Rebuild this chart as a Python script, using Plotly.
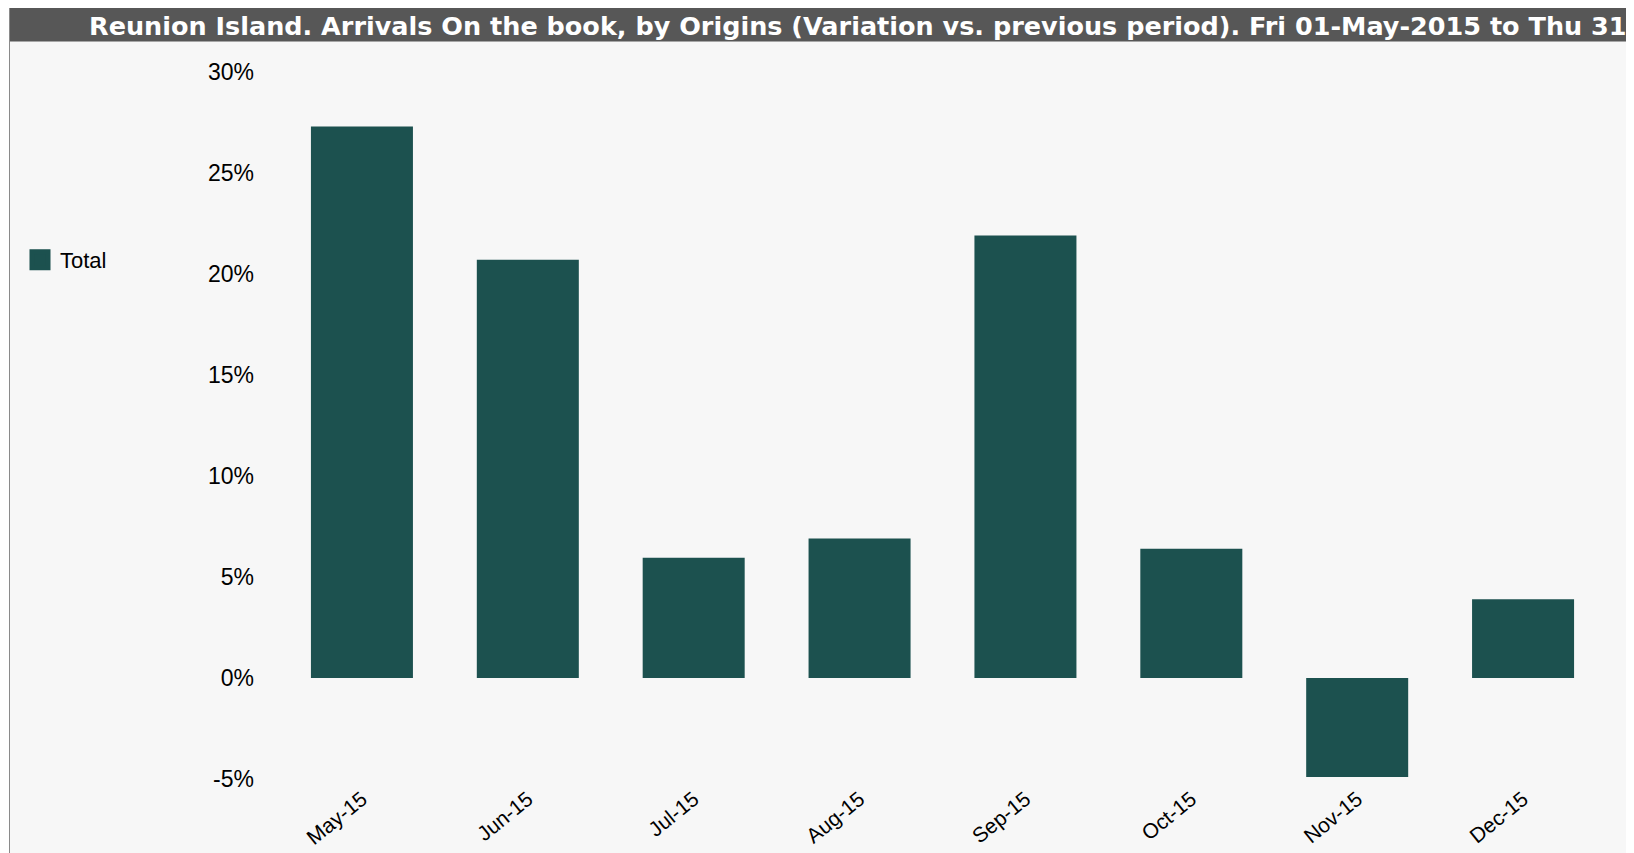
import plotly.graph_objects as go

# The page puts the figure at an 8px body margin; work in figure pixels.
W, H = 1626, 845

months = ["May-15", "Jun-15", "Jul-15", "Aug-15", "Sep-15", "Oct-15", "Nov-15", "Dec-15"]
variation_pct = [27.3, 20.7, 5.95, 6.9, 21.9, 6.4, -4.9, 3.9]
series_name = "Total"
y_ticks = [-5, 0, 5, 10, 15, 20, 25, 30]
title_text = ("Reunion Island. Arrivals On the book, by Origins (Variation vs. previous period). "
              "Fri 01-May-2015 to Thu 31")

BAR = "#1c514f"

def px_x(p):
    return p / W

def px_y(p):
    return 1 - p / H

fig = go.Figure()
fig.add_trace(go.Bar(
    x=months, y=variation_pct, name=series_name,
    marker=dict(color=BAR, line=dict(width=0)),
    showlegend=False,
))
fig.add_trace(go.Scatter(
    x=[None], y=[None], mode="markers", name=series_name,
    marker=dict(symbol="square", size=16, color=BAR, line=dict(width=5, color=BAR)),
    showlegend=True, hoverinfo="skip",
))

shapes = [
    # panel background
    dict(type="rect", xref="paper", yref="paper", x0=px_x(1), x1=1, y0=0, y1=px_y(33),
         fillcolor="#f7f7f7", line=dict(width=0), layer="below"),
    # title bar
    dict(type="rect", xref="paper", yref="paper", x0=px_x(1), x1=1, y0=px_y(33.5), y1=1,
         fillcolor="#575757", line=dict(width=0), layer="below"),
    # left border
    dict(type="line", xref="paper", yref="paper", x0=px_x(1.5), x1=px_x(1.5), y0=0, y1=1,
         line=dict(color="#8a8a8a", width=1), layer="below"),
]

fig.update_layout(
    width=W, height=H,
    margin=dict(l=0, r=0, t=0, b=0, autoexpand=False),
    paper_bgcolor="white",
    plot_bgcolor="rgba(0,0,0,0)",
    shapes=shapes,
    bargap=0.385,
    font=dict(family="Liberation Sans, Arial, sans-serif", color="black"),
    annotations=[dict(
        text=title_text, xref="paper", yref="paper",
        x=px_x(79), y=px_y(18), xanchor="left", yanchor="middle",
        showarrow=False,
        font=dict(family="DejaVu Sans", size=25.5, color="white", weight="bold"),
    )],
    legend=dict(
        x=px_x(12), y=px_y(252), xanchor="left", yanchor="middle",
        font=dict(size=22, family="Liberation Sans, Arial, sans-serif", color="black"),
        bgcolor="rgba(0,0,0,0)",
    ),
    xaxis=dict(
        domain=[px_x(271), px_x(1598)],
        automargin=False,
        showgrid=False, zeroline=False, showline=False, ticks="",
        tickangle=-39,
        tickfont=dict(size=21),
        ticklabelstandoff=3,
    ),
    yaxis=dict(
        domain=[px_y(771), px_y(64)],
        automargin=False,
        range=[-5, 30],
        tickvals=y_ticks,
        ticktext=[f"{v}%" for v in y_ticks],
        showgrid=False, zeroline=False, showline=False, ticks="",
        tickfont=dict(size=23),
        ticklabelstandoff=24,
    ),
)

fig.write_html("out.html")
